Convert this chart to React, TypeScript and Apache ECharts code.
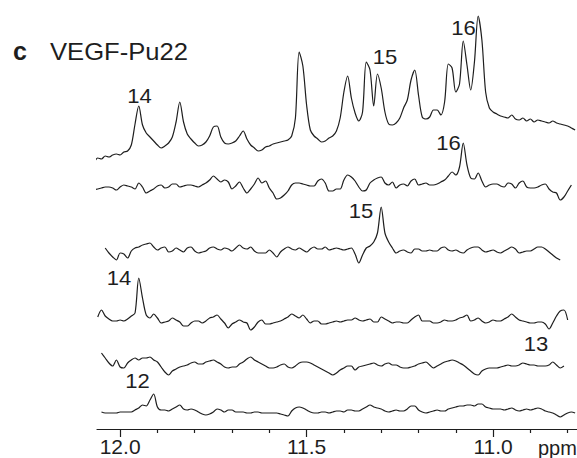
import React, { useEffect, useRef } from 'react';
import * as echarts from 'echarts';

// chemical shift sample positions (ppm), shared by all traces
const PPM = [12.08,12.07,12.06,12.05,12.04,12.03,12.02,12.01,12.00,11.99,11.98,11.97,11.96,11.95,11.94,11.93,11.92,11.91,11.90,11.89,11.88,11.87,11.86,11.85,11.84,11.83,11.82,11.81,11.80,11.79,11.78,11.77,11.76,11.75,11.74,11.73,11.72,11.71,11.70,11.69,11.68,11.67,11.66,11.65,11.64,11.63,11.62,11.61,11.60,11.59,11.58,11.57,11.56,11.55,11.54,11.53,11.52,11.51,11.50,11.49,11.48,11.47,11.46,11.45,11.44,11.43,11.42,11.41,11.40,11.39,11.38,11.37,11.36,11.35,11.34,11.33,11.32,11.31,11.30,11.29,11.28,11.27,11.26,11.25,11.24,11.23,11.22,11.21,11.20,11.19,11.18,11.17,11.16,11.15,11.14,11.13,11.12,11.11,11.10,11.09,11.08,11.07,11.06,11.05,11.04,11.03,11.02,11.01,11.00,10.99,10.98,10.97,10.96,10.95,10.94,10.93,10.92,10.91,10.90,10.89,10.88,10.87,10.86,10.85,10.84,10.83,10.82,10.81,10.80,10.79,10.78];

// vertical stacking offsets of the six spectra (top to bottom)
const TRACE_OFFSETS = [269, 241, 179, 109, 64, 17];

// full 1D imino spectrum
const TRACE_FULL = [0,-1,2,1,4,3,5,6,5,8, 9,15,36,54,35,27,23,19,15,12, 14,17,23,38,58,38,26,21,17,14, 15,18,24,33,34,23,17,16,17,19, 24,29,21,15,12,9,10,13,14,16, 17,18,19,20,24,42,108,94,55,30, 24,21,18,19,22,24,29,42,68,84, 62,47,39,48,98,90,54,86,72,48, 36,35,37,42,52,60,80,90,65,43, 41,43,50,50,45,58,96,92,68,76, 119,95,70,98,144,120,68,52,48,46, 44,43,42,45,41,40,42,39,41,38, 40,39,38,37,39,37,36,35,34,32, 30];
// 15N-filtered spectra
const TRACE_G16 = [-3,-2,-1,0,1,1,0,-2,1,3, 2,1,-1,5,1,-5,-3,-1,2,3, 0,1,4,4,1,2,3,3,2,1, 3,5,8,12,9,6,8,6,-1,2, 6,0,-5,-1,4,10,5,7,0,-5, -11,-10,-7,-3,3,5,5,4,3,2, 2,7,9,5,-3,-3,-1,-1,8,13, 11,7,1,-3,-2,5,8,10,11,5, 3,6,0,3,4,2,7,9,3,4, 5,3,3,4,6,8,12,16,13,21, 45,23,10,9,15,7,1,3,4,4, 2,1,5,4,0,5,7,1,0,0, 1,3,4,-1,-4,-5,-12,-9,-3,3, null];
const TRACE_G15 = [null,null,null,null,2,-3,-7,-10,-3,-4, -8,-1,2,3,5,6,7,3,0,2, 3,-2,-1,2,0,-2,2,3,-1,-3, -2,-1,2,3,1,0,2,1,-1,2, 5,2,1,3,-1,-3,-3,-3,0,-3, -7,-2,1,3,1,0,2,0,-2,1, 3,1,1,3,0,1,2,1,0,1, 2,-4,-13,-5,2,4,8,17,43,17, 8,2,-3,-1,0,-2,-3,1,1,-1, -1,0,-1,-1,2,3,0,-1,0,-2, -3,0,2,3,3,0,-2,-1,0,-2, -3,-1,1,3,1,-3,-2,-1,-1,1, 3,3,1,-2,-5,-8,-10,null,null,null, null];
const TRACE_G14 = [null,null,3,10,4,1,-1,-1,0,-1, 1,4,7,42,22,5,2,6,2,-3, -2,-1,2,0,-2,-6,-6,-3,-1,-1, -3,-1,2,3,5,1,-3,-8,-4,-2, 0,-2,-3,-10,-7,-2,0,-4,-4,-3, -2,-1,1,3,6,4,2,5,1,-3, -1,-1,-4,-4,-3,-2,-1,-2,-1,0, 0,2,0,-1,0,1,-2,-2,3,1, -1,-3,-2,-2,-3,-3,0,3,5,-1, -1,-1,-3,-3,-2,0,-1,-1,0,2, 3,5,-1,0,2,-1,-3,-2,0,-1, -1,1,3,6,3,0,-1,-2,-3,-3, -2,-2,-4,-9,-3,4,9,10,0,null, null];
const TRACE_G13 = [null,null,null,12,7,2,-1,5,-2,-3, 2,5,7,5,7,7,8,5,3,-2, -7,-10,-6,-4,-2,-1,0,2,3,1, 1,3,4,5,3,1,-2,-3,-2,-2, 1,3,6,8,5,3,1,-1,-3,-3, -2,0,1,-2,-3,-1,2,3,3,2, 0,-2,-4,-6,-8,-10,-8,-5,-3,-1, -1,-5,-2,-1,0,1,2,0,-1,1, 2,0,0,-2,-3,-3,-2,-1,1,2, 3,0,-3,-1,1,3,4,5,4,2, 0,-3,-6,-9,-10,-6,-4,-3,-3,-3, -2,-1,0,-1,-1,0,2,1,0,0, -1,-1,-1,0,3,0,-3,-1,null,null, null];
const TRACE_G12 = [null,null,null,0,-1,-1,-1,-1,0,0, 0,0,2,4,7,6,12,18,5,2, 2,1,3,5,7,3,2,3,2,0, -2,-3,-2,0,3,2,0,2,2,0, 0,0,-1,-1,0,0,-1,-1,-1,-1, -1,-2,-3,-4,1,4,5,4,2,0, -1,-1,0,0,-1,0,1,1,0,2, 2,1,1,3,5,7,5,4,3,1, 0,1,2,1,1,3,6,6,2,0, -1,0,1,2,1,1,3,4,5,6, 6,7,7,6,8,8,5,4,3,3, 3,2,3,4,2,1,2,3,2,3, 4,3,1,0,-1,-3,-5,-3,-1,0, -1];

const TRACES = [TRACE_FULL, TRACE_G16, TRACE_G15, TRACE_G14, TRACE_G13, TRACE_G12];

const MAJOR_TICKS = [12.0, 11.5, 11.0];
const MINOR_TICKS = [11.9, 11.8, 11.7, 11.6, 11.4, 11.3, 11.2, 11.1, 10.9, 10.8];
const PEAK_LABELS = ['14', '15', '16', '16', '15', '14', '13', '12'];
const TITLE_LETTER = 'c';
const TITLE = 'VEGF-Pu22';
const X_UNIT = 'ppm';

const FONT = '"Liberation Sans", Arial, Helvetica, sans-serif';
const INK = '#1e1e1e';

export default function App() {
  const ref = useRef<HTMLDivElement>(null);

  useEffect(() => {
    if (!ref.current) return;
    const chart = echarts.init(ref.current, undefined, { renderer: 'svg' });

    const series = TRACES.map((trace, k) => ({
      type: 'line',
      xAxisIndex: 0,
      yAxisIndex: 0,
      showSymbol: false,
      symbol: 'none',
      smooth: 0.3,
      clip: false,
      silent: true,
      lineStyle: { color: INK, width: 1.2 },
      data: PPM.map((p, i) => (trace[i] === null ? null : [p, TRACE_OFFSETS[k] + (trace[i] as number)])).filter(
        (d) => d !== null
      ),
    }));

    const labelPos = [
      [139.5, 96],
      [385, 57],
      [463.5, 28.5],
      [448.5, 143.5],
      [361, 211],
      [119, 278.5],
      [536, 344.5],
      [137.5, 381],
    ];

    const graphic: any[] = PEAK_LABELS.map((t, i) => ({
      type: 'text',
      x: labelPos[i][0],
      y: labelPos[i][1],
      scaleX: 1.05,
      style: {
        text: t,
        x: 0,
        y: 0,
        align: 'center',
        textAlign: 'center',
        verticalAlign: 'middle',
        textVerticalAlign: 'middle',
        fontSize: 21,
        fontFamily: FONT,
        fill: INK,
      },
    }));
    graphic.push({
      type: 'text',
      x: 20,
      y: 51,
      style: {
        text: TITLE_LETTER,
        x: 0,
        y: 0,
        align: 'center',
        textAlign: 'center',
        verticalAlign: 'middle',
        textVerticalAlign: 'middle',
        fontSize: 25,
        fontWeight: 'bold',
        fontFamily: FONT,
        fill: INK,
      },
    });
    graphic.push({
      type: 'text',
      x: 50,
      y: 51.5,
      scaleX: 1.09,
      style: {
        text: TITLE,
        x: 0,
        y: 0,
        align: 'left',
        textAlign: 'left',
        verticalAlign: 'middle',
        textVerticalAlign: 'middle',
        fontSize: 23.5,
        fontFamily: FONT,
        fill: INK,
      },
    });
    graphic.push({
      type: 'text',
      x: 538,
      y: 448,
      style: {
        text: X_UNIT,
        x: 0,
        y: 0,
        align: 'left',
        textAlign: 'left',
        verticalAlign: 'middle',
        textVerticalAlign: 'middle',
        fontSize: 20,
        fontFamily: FONT,
        fill: INK,
      },
    });

    const xMin = 10.775;
    const xMax = 12.062;

    chart.setOption({
      animation: false,
      grid: { left: 97, right: 0, top: 0, bottom: 29, containLabel: false, outerBoundsMode: 'none' },
      xAxis: [
        {
          type: 'value',
          inverse: true,
          min: xMin,
          max: xMax,
          position: 'bottom',
          axisLine: { show: true, lineStyle: { color: INK, width: 1.2 } },
          axisTick: { show: true, customValues: MAJOR_TICKS, length: 8, lineStyle: { color: INK, width: 1.2 } },
          axisLabel: {
            show: true,
            customValues: MAJOR_TICKS,
            formatter: (v: number) => v.toFixed(1),
            fontSize: 21,
            lineHeight: 21,
            fontFamily: FONT,
            color: INK,
            margin: 7,
          },
          splitLine: { show: false },
        },
        {
          type: 'value',
          inverse: true,
          min: xMin,
          max: xMax,
          position: 'bottom',
          offset: 0,
          axisLine: { show: false },
          axisTick: { show: true, customValues: MINOR_TICKS, length: 4, lineStyle: { color: INK, width: 1.2 } },
          axisLabel: { show: false },
          splitLine: { show: false },
        },
      ],
      yAxis: { type: 'value', min: 0, max: 429, show: false },
      series,
      graphic,
    });

    return () => chart.dispose();
  }, []);

  return <div ref={ref} style={{ position: 'absolute', left: 0, top: 0, width: 577, height: 458, background: '#fff' }} />;
}
